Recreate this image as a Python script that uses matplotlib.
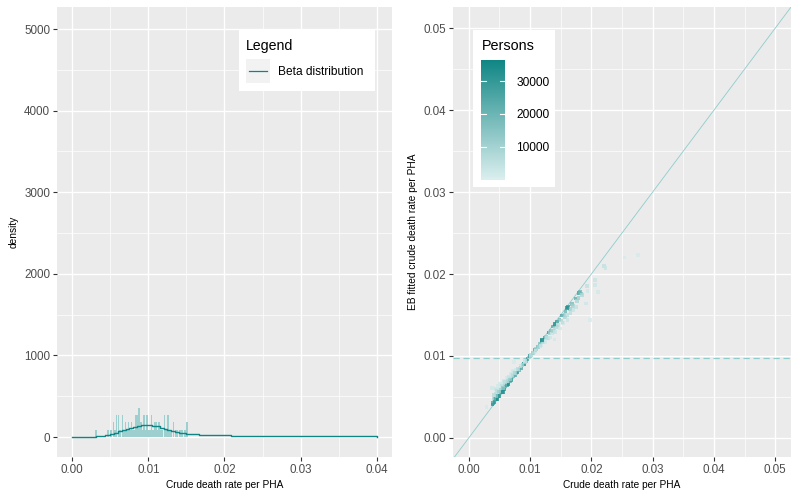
import matplotlib.pyplot as plt
import numpy as np
from matplotlib.colors import LinearSegmentedColormap, Normalize
from matplotlib.patches import Rectangle
from matplotlib.lines import Line2D

plt.rcParams['font.family'] = ['Liberation Sans', 'DejaVu Sans']

# left panel: histogram of crude rates (density) and beta density step
hist_x = [0.0031, 0.0047, 0.0051, 0.0054, 0.0056, 0.0058, 0.0061, 0.0063, 0.0066, 0.0068,
          0.0070, 0.0072, 0.0074, 0.0076, 0.0078, 0.0080, 0.0082, 0.0084, 0.0086, 0.0088,
          0.0090, 0.0092, 0.0094, 0.0096, 0.0098, 0.0100, 0.0102, 0.0104, 0.0106, 0.0108,
          0.0110, 0.0112, 0.0114, 0.0116, 0.0118, 0.0121, 0.0123, 0.0126, 0.0128, 0.0130,
          0.0133, 0.0136, 0.0138, 0.0141, 0.0143, 0.0145, 0.0148, 0.0151]
hist_y = [90, 90, 90, 180, 90, 270, 270, 90, 270, 90,
          180, 90, 180, 90, 180, 90, 90, 270, 270, 360,
          180, 90, 270, 90, 270, 90, 90, 270, 90, 180,
          180, 90, 180, 90, 90, 270, 90, 270, 90, 90,
          180, 90, 90, 90, 90, 90, 90, 180]
hist_width = 0.0002

beta_x = [0.0, 0.0031, 0.0043, 0.0050, 0.0055, 0.0060, 0.0065, 0.0070, 0.0075, 0.0080,
          0.0085, 0.0090, 0.0095, 0.0100, 0.0105, 0.0110, 0.0115, 0.0120, 0.0125, 0.0130,
          0.0135, 0.0140, 0.0145, 0.0150, 0.0166, 0.0208, 0.0400]
beta_y = [2, 12, 28, 40, 55, 70, 85, 100, 115, 125,
          140, 150, 150, 150, 140, 130, 115, 100, 90, 75,
          65, 55, 45, 40, 28, 12, 2]

# right panel: crude vs EB fitted rates, coloured by persons
crude_rate = [0.0029, 0.0038, 0.0039, 0.0040, 0.0041, 0.0042, 0.0043, 0.0044, 0.0045, 0.0046,
              0.0047, 0.0048, 0.0049, 0.0050, 0.0051, 0.0052, 0.0053, 0.0054, 0.0055, 0.0056,
              0.0057, 0.0058, 0.0059, 0.0060, 0.0061, 0.0062, 0.0063, 0.0064, 0.0065, 0.0066,
              0.0067, 0.0068, 0.0069, 0.0070, 0.0071, 0.0072, 0.0073, 0.0074, 0.0075, 0.0076,
              0.0078, 0.0079, 0.0080, 0.0082, 0.0083, 0.0085, 0.0086, 0.0088, 0.0090, 0.0092,
              0.0094, 0.0096, 0.0098, 0.0099, 0.0100, 0.0102, 0.0104, 0.0106, 0.0108, 0.0110,
              0.0112, 0.0114, 0.0116, 0.0118, 0.0120, 0.0122, 0.0124, 0.0126, 0.0128, 0.0130,
              0.0132, 0.0134, 0.0136, 0.0138, 0.0140, 0.0142, 0.0144, 0.0146, 0.0148, 0.0150,
              0.0152, 0.0154, 0.0156, 0.0158, 0.0160, 0.0162, 0.0165, 0.0168, 0.0171, 0.0174,
              0.0177, 0.0180, 0.0183,
              0.0140, 0.0191, 0.0193, 0.0194, 0.0198, 0.0206, 0.0206, 0.0211, 0.0221, 0.0223,
              0.0254, 0.0276, 0.0074,
              0.00415, 0.00435, 0.00455, 0.00475, 0.00495, 0.00515, 0.00535, 0.00555, 0.00575, 0.00595,
              0.00615, 0.00635, 0.00655, 0.00675, 0.00695, 0.00715, 0.00735, 0.00755, 0.00775, 0.00805,
              0.00845, 0.00875, 0.00915, 0.00470, 0.00560, 0.00650,
              0.01010, 0.01050, 0.01090, 0.01130, 0.01170, 0.01210, 0.01250, 0.01290, 0.01330, 0.01370,
              0.01410, 0.01450, 0.01490, 0.01530, 0.01570, 0.01610, 0.01660, 0.01700, 0.01750, 0.01790,
              0.01820, 0.01850, 0.01600, 0.01400, 0.01200]
eb_rate = [0.0038, 0.0061, 0.00408, 0.00429, 0.00478, 0.00442, 0.0048, 0.00537, 0.00477, 0.00512,
           0.00582, 0.0051, 0.00559, 0.00514, 0.00604, 0.00557, 0.00584, 0.00562, 0.00623, 0.00598,
           0.00673, 0.00596, 0.0064, 0.00627, 0.00684, 0.0066, 0.00648, 0.00691, 0.00676, 0.0073,
           0.00689, 0.00719, 0.00717, 0.00711, 0.00759, 0.00824, 0.00748, 0.00769, 0.00762, 0.00795,
           0.00796, 0.00798, 0.00836, 0.0083, 0.00848, 0.00857, 0.00886, 0.0089, 0.00902, 0.00929,
           0.00943, 0.00961, 0.0098, 0.00988, 0.00999, 0.01015, 0.01036, 0.01044, 0.01075, 0.01087,
           0.01116, 0.01113, 0.01146, 0.0113, 0.01187, 0.01186, 0.01227, 0.01232, 0.0122, 0.01287,
           0.01279, 0.01311, 0.01276, 0.0136, 0.01337, 0.0138, 0.01422, 0.01374, 0.01445, 0.01432,
           0.01493, 0.01406, 0.01502, 0.01544, 0.0150, 0.01594, 0.01576, 0.01631, 0.01564, 0.01702,
           0.01667, 0.01767, 0.01762,
           0.0120, 0.0164, 0.0185, 0.0179, 0.0144, 0.0193, 0.0187, 0.0178, 0.0210, 0.0207,
           0.0220, 0.0223, 0.0093,
           0.00528, 0.00599, 0.00571, 0.00637, 0.00568, 0.00655, 0.00642, 0.00606, 0.00697, 0.0068,
           0.00735, 0.00697, 0.00743, 0.00715, 0.00781, 0.00768, 0.00804, 0.00789, 0.00837, 0.00844,
           0.0088, 0.00894, 0.00935, 0.0047, 0.00564, 0.00653,
           0.01003, 0.01037, 0.01057, 0.01109, 0.01121, 0.01164, 0.01169, 0.01222, 0.01225, 0.01308,
           0.01294, 0.01356, 0.01337, 0.01409, 0.0147, 0.0144, 0.01524, 0.01606, 0.01596, 0.01709,
           0.01778, 0.01746, 0.01588, 0.01392, 0.01198]
persons = [1500, 2500, 34000, 28000, 9000, 31000, 15000, 5000, 26000, 12000,
           3000, 20000, 8000, 33000, 4000, 17000, 10000, 25000, 6000, 14000,
           2500, 30000, 9000, 19000, 4500, 11000, 27000, 7000, 16000, 3500,
           22000, 8500, 13000, 29000, 5000, 2000, 18000, 10000, 24000, 6500,
           15000, 32000, 4000, 21000, 9500, 26000, 3000, 12000, 35000, 7500,
           18000, 28000, 14000, 5500, 31000, 9000, 20000, 4000, 25000, 11000,
           33000, 6000, 16000, 2500, 22000, 8000, 27000, 12500, 4500, 30000,
           10000, 17000, 3500, 24000, 7000, 14000, 29000, 5000, 19000, 9000,
           26000, 3000, 13000, 21000, 6500, 31000, 11000, 18000, 4000, 24000,
           9000, 28000, 15000,
           2000, 3000, 5000, 2500, 1500, 4000, 3000, 2000, 5000, 3500,
           1500, 1500, 1500,
           7000, 3500, 6000, 2000, 11000, 2500, 5500, 13000, 3000, 6000,
           2000, 8000, 4000, 12000, 2500, 7000, 3000, 9000, 2500, 6000,
           4000, 8000, 3000, 36000, 34000, 35000,
           5000, 8000, 3000, 10000, 4500, 7000, 2500, 6000, 3000, 9000,
           4000, 7500, 2500, 5500, 8500, 3500, 6000, 10000, 5000, 12000,
           20000, 8000, 33000, 34000, 36000]
mean_rate = 0.0098

teal = '#0e8585'
light = '#8fcccc'
panel_bg = '#EBEBEB'
tick_col = '#4D4D4D'


def gg_axes(ax):
    ax.set_facecolor(panel_bg)
    for s in ax.spines.values():
        s.set_visible(False)
    ax.grid(which='major', color='white', lw=1.0)
    ax.grid(which='minor', color='white', lw=0.5)
    ax.set_axisbelow(True)
    ax.tick_params(which='major', length=3, width=0.8, color='#333333',
                   labelsize=8.4, labelcolor=tick_col, pad=2)
    ax.tick_params(which='minor', length=0)


fig = plt.figure(figsize=(8, 5), dpi=100)

# ---- left panel
ax1 = fig.add_axes([57 / 800, 1 - 457 / 500, 335 / 800, 450 / 500])
gg_axes(ax1)
ax1.bar(hist_x, hist_y, width=hist_width, color='#9dcfcf', lw=0, zorder=2)
ax1.step(beta_x, beta_y, where='post', color=teal, lw=1.0, zorder=3)
ax1.set_xlim(-0.002, 0.042)
ax1.set_ylim(-245, 5270)
ax1.set_xticks([0, 0.01, 0.02, 0.03, 0.04])
ax1.set_xticks([0.005, 0.015, 0.025, 0.035], minor=True)
ax1.set_yticks([0, 1000, 2000, 3000, 4000, 5000])
ax1.set_yticks([500, 1500, 2500, 3500, 4500], minor=True)
ax1.set_xticklabels(['0.00', '0.01', '0.02', '0.03', '0.04'])
ax1.set_xlabel('Crude death rate per PHA', fontsize=7.3, labelpad=3)
ax1.set_ylabel('density', fontsize=7.3, labelpad=4)

# legend box for left panel
fig.patches.append(Rectangle((239 / 800, 1 - 91 / 500), 136 / 800, 62 / 500,
                             transform=fig.transFigure, facecolor='white', lw=0, zorder=5))
fig.patches.append(Rectangle((246 / 800, 1 - 83 / 500), 24 / 800, 24 / 500,
                             transform=fig.transFigure, facecolor='#F2F2F2', lw=0, zorder=6))
fig.lines.append(Line2D([249 / 800, 267 / 800], [1 - 71 / 500, 1 - 71 / 500],
                        transform=fig.transFigure, color=teal, lw=0.9, zorder=7))
fig.text(246 / 800, 1 - 46 / 500, 'Legend', fontsize=10.2, va='center', zorder=8)
fig.text(278 / 800, 1 - 72 / 500, 'Beta distribution', fontsize=8.6, va='center', zorder=8)

# ---- right panel
ax2 = fig.add_axes([453 / 800, 1 - 457 / 500, 338 / 800, 450 / 500])
gg_axes(ax2)
cmap = LinearSegmentedColormap.from_list('persons', ['#dcefef', '#0f8684'])
norm = Normalize(vmin=-150, vmax=36400)
ax2.axline((0, 0), slope=1, color=light, lw=0.6, zorder=2)
ax2.axhline(mean_rate, color=light, lw=0.9, ls=(0, (5, 3)), zorder=2)
sc = ax2.scatter(crude_rate, eb_rate, c=persons, cmap=cmap, norm=norm, marker='s',
                 s=7, lw=0, alpha=0.75, zorder=3)
ax2.set_xlim(-0.00256, 0.05256)
ax2.set_ylim(-0.00232, 0.05257)
ax2.set_xticks([0, 0.01, 0.02, 0.03, 0.04, 0.05])
ax2.set_xticks([0.005, 0.015, 0.025, 0.035, 0.045], minor=True)
ax2.set_yticks([0, 0.01, 0.02, 0.03, 0.04, 0.05])
ax2.set_yticks([0.005, 0.015, 0.025, 0.035, 0.045], minor=True)
ax2.set_xticklabels(['0.00', '0.01', '0.02', '0.03', '0.04', '0.05'])
ax2.set_yticklabels(['0.00', '0.01', '0.02', '0.03', '0.04', '0.05'])
ax2.set_xlabel('Crude death rate per PHA', fontsize=7.3, labelpad=3)
ax2.set_ylabel('EB fitted crude death rate per PHA', fontsize=7.3, labelpad=4)

# colourbar legend
fig.patches.append(Rectangle((473 / 800, 1 - 187 / 500), 82 / 800, 157 / 500,
                             transform=fig.transFigure, facecolor='white', lw=0, zorder=5))
fig.text(482 / 800, 1 - 46 / 500, 'Persons', fontsize=10.4, va='center', zorder=8)
cax = fig.add_axes([481 / 800, 1 - 180 / 500, 24 / 800, 120 / 500], zorder=9)
cb = fig.colorbar(sc, cax=cax)
cb.solids.set_alpha(1)
cb.outline.set_visible(False)
cb.set_ticks([10000, 20000, 30000])
cax.tick_params(length=0, labelsize=8.6, labelcolor='black', pad=8)
for v in [10000, 20000, 30000]:
    cax.plot([0, 0.2], [v, v], color='white', lw=0.8, transform=cax.get_yaxis_transform())
    cax.plot([0.8, 1.0], [v, v], color='white', lw=0.8, transform=cax.get_yaxis_transform())

fig.savefig('out.png', dpi=100)
